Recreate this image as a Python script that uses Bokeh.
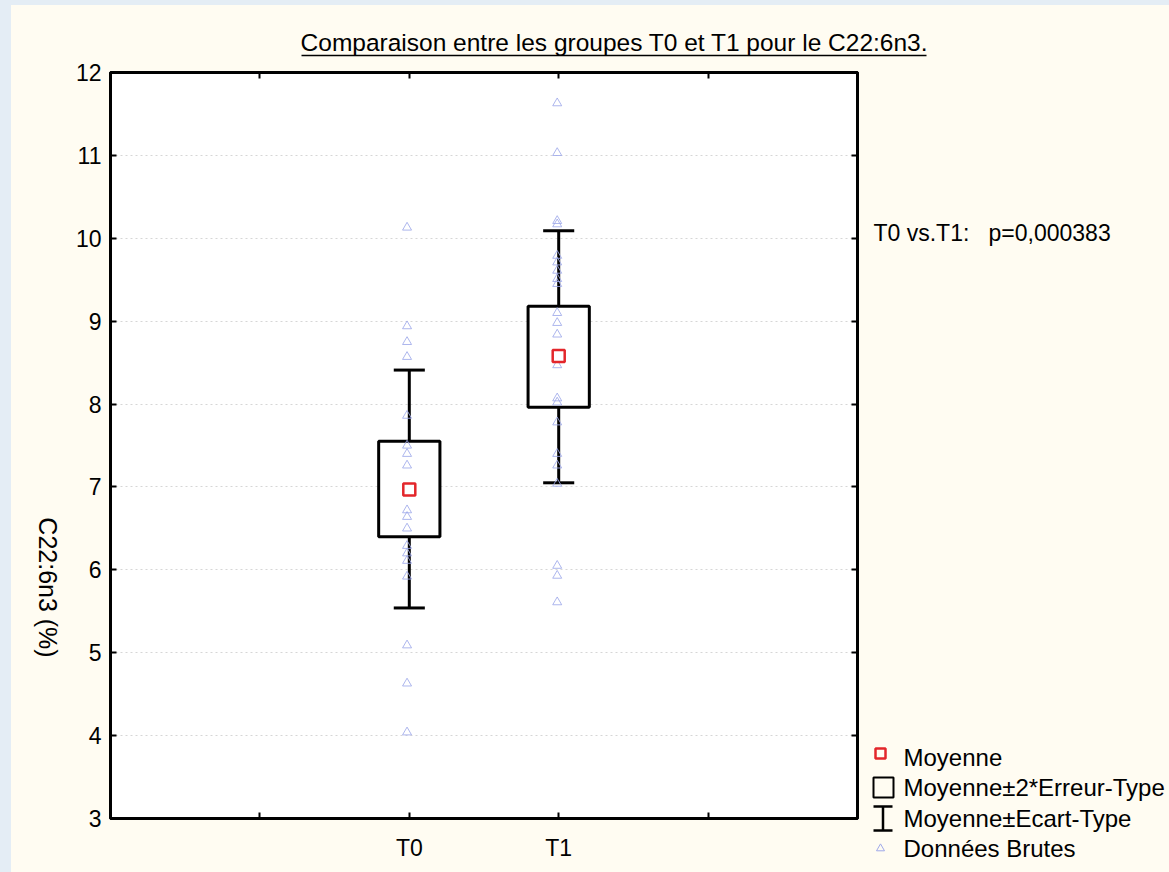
import math
from bokeh.plotting import figure
from bokeh.models import FixedTicker, LinearAxis, Range1d, ColumnDataSource
from bokeh.core.properties import value
from bokeh.layouts import column, row
from bokeh.embed import file_html
from bokeh.resources import INLINE

# ---------------- data ----------------
groups = ["T0", "T1"]
group_pos = [2, 3]
t0_values = [10.13, 8.94, 8.75, 8.57, 7.86, 7.50, 7.40, 7.26, 6.72, 6.64, 6.50,
             6.29, 6.20, 6.11, 5.92, 5.09, 4.63, 4.04]
t1_values = [11.63, 11.03, 10.21, 10.17, 9.79, 9.71, 9.61, 9.51, 9.45, 9.10, 8.98,
             8.84, 8.47, 8.07, 8.02, 7.78, 7.40, 7.26, 7.04, 6.05, 5.93, 5.61]
means = [6.97, 8.58]
se2_low = [6.40, 7.96]
se2_high = [7.55, 9.18]
sd_low = [5.54, 7.05]
sd_high = [8.41, 10.09]
y_ticks = list(range(3, 13))
x_ticks = [1, 2, 3, 4]
title_text = "Comparaison entre les groupes T0 et T1 pour le C22:6n3."
y_label_text = "C22:6n3 (%)"
p_text = "T0 vs.T1:\u00a0\u00a0\u00a0p=0,000383"
legend_labels = ["Moyenne", "Moyenne\u00b12*Erreur-Type", "Moyenne\u00b1Ecart-Type", "Donn\u00e9es Brutes"]

FONT = "Liberation Sans"
CREAM = "#fffcf2"
BLUE = "#e4edf5"
TRI = "#9fa9ea"
RED = "#e3262b"

# window layout (pixels)
OX, OY = 11, 5            # cream panel origin
TOP_H = 55                # title strip height (y 5..60)
LEFT_W = 60               # y-label strip width (x 11..71)
RIGHT_X = 870             # right strip start
FL, FR, FT, FB = 110, 857, 72, 818   # plot frame
W_TOTAL, H_TOTAL = 1169, 872


def deco_fig(w, h):
    f = figure(width=w, height=h, x_range=Range1d(0, w), y_range=Range1d(0, h),
               output_backend="svg", toolbar_location=None,
               x_axis_location=None, y_axis_location=None,
               min_border=0, min_border_left=0, min_border_right=0,
               min_border_top=0, min_border_bottom=0,
               background_fill_color=CREAM, border_fill_color=CREAM,
               outline_line_color=None, frame_align=False)
    f.grid.visible = False
    return f

# ---------------- title strip ----------------
top = deco_fig(W_TOTAL - OX, TOP_H)
top.text(x=[614 - OX], y=[TOP_H - (42 - OY)], text=[title_text], text_align="center",
         text_baseline="middle", text_font=value(FONT), text_font_size="24.5px",
         text_color="black")
top.segment(x0=[301 - OX], y0=[TOP_H - (55 - OY)], x1=[926 - OX], y1=[TOP_H - (55 - OY)],
            line_color="black", line_width=1.3)

# ---------------- y-label strip ----------------
body_h = H_TOTAL - OY - TOP_H
left = deco_fig(LEFT_W, body_h)
left.text(x=[47 - OX], y=[H_TOTAL - 587], text=[y_label_text], angle=-math.pi / 2,
          text_align="center", text_baseline="middle", text_font=value(FONT),
          text_font_size="25px", text_color="black")

# ---------------- main plot ----------------
main_w = RIGHT_X - (OX + LEFT_W)
p = figure(width=main_w, height=body_h, x_range=Range1d(0, 5), y_range=Range1d(3, 12),
           output_backend="svg", toolbar_location=None,
           min_border_left=FL - (OX + LEFT_W), min_border_right=RIGHT_X - FR,
           min_border_top=FT - (OY + TOP_H), min_border_bottom=H_TOTAL - FB,
           background_fill_color="white", border_fill_color=CREAM,
           outline_line_color="black", outline_line_width=3, frame_align=False)


def style_axis(ax, show_labels):
    ax.axis_line_width = 3
    ax.axis_line_color = "black"
    ax.major_tick_in = 6
    ax.major_tick_out = 0
    ax.major_tick_line_width = 2
    ax.minor_tick_line_color = None
    ax.major_label_text_font = FONT
    ax.major_label_text_color = "black" if show_labels else None
    ax.major_label_text_font_size = "23px" if show_labels else "1px"
    if not show_labels:
        ax.major_label_standoff = 0


p.xaxis.ticker = FixedTicker(ticks=x_ticks)
p.xaxis.major_label_overrides = {1: "", 2: groups[0], 3: groups[1], 4: ""}
p.xaxis.major_label_standoff = 16
p.yaxis.ticker = FixedTicker(ticks=y_ticks)
p.yaxis.major_label_standoff = 9
style_axis(p.xaxis[0], True)
style_axis(p.yaxis[0], True)

top_ax = LinearAxis(ticker=FixedTicker(ticks=x_ticks))
right_ax = LinearAxis(ticker=FixedTicker(ticks=y_ticks))
style_axis(top_ax, False)
style_axis(right_ax, False)
p.add_layout(top_ax, "above")
p.add_layout(right_ax, "right")

p.xgrid.grid_line_color = None
p.ygrid.ticker = FixedTicker(ticks=y_ticks)
p.ygrid.grid_line_color = "#d6d6d6"
p.ygrid.grid_line_dash = "2 3"

stats = ColumnDataSource(dict(x=group_pos, mean=means, lo=se2_low, hi=se2_high,
                              sdl=sd_low, sdh=sd_high,
                              cl=[g - 0.104 for g in group_pos], cr=[g + 0.104 for g in group_pos],
                              bl=[g - 0.205 for g in group_pos], br=[g + 0.205 for g in group_pos]))
p.segment(x0="x", y0="sdl", x1="x", y1="sdh", source=stats, line_color="black", line_width=3)
p.segment(x0="cl", y0="sdh", x1="cr", y1="sdh", source=stats, line_color="black", line_width=3)
p.segment(x0="cl", y0="sdl", x1="cr", y1="sdl", source=stats, line_color="black", line_width=3)
p.quad(left="bl", right="br", bottom="lo", top="hi", source=stats,
       fill_color="white", line_color="black", line_width=3)

raw = ColumnDataSource(dict(x=[group_pos[0] - 0.015] * len(t0_values) + [group_pos[1] - 0.01] * len(t1_values),
                            y=t0_values + t1_values))
p.scatter(x="x", y="y", source=raw, marker="triangle", size=9, fill_color=None,
          line_color=TRI, line_width=1, line_alpha=0.85)
p.scatter(x="x", y="mean", source=stats, marker="square", size=12, fill_color="white",
          line_color=RED, line_width=2.5)

# ---------------- right strip: p-value + legend ----------------
right_w = W_TOTAL - RIGHT_X
rt = deco_fig(right_w, body_h)


def rx(wx):
    return wx - RIGHT_X


def ry(wy):
    return H_TOTAL - wy


rt.text(x=[rx(873)], y=[ry(232)], text=[p_text], text_align="left", text_baseline="middle",
        text_font=value(FONT), text_font_size="23px", text_color="black")

rows_y = [757, 787, 818, 848]
rt.text(x=[rx(903)] * 4, y=[ry(v) for v in rows_y], text=legend_labels, text_align="left",
        text_baseline="middle", text_font=value(FONT), text_font_size="24px",
        text_color="black")
# legend symbols
rt.scatter(x=[rx(880)], y=[ry(753)], marker="square", size=10, fill_color=None,
           line_color=RED, line_width=2.5)
rt.scatter(x=[rx(883)], y=[ry(787)], marker="square", size=20, fill_color=None,
           line_color="black", line_width=2)
rt.segment(x0=[rx(882.5), rx(873), rx(873)], y0=[ry(806), ry(806), ry(830)],
           x1=[rx(882.5), rx(892), rx(892)], y1=[ry(830), ry(806), ry(830)],
           line_color="black", line_width=2.5)
rt.scatter(x=[rx(880)], y=[ry(848)], marker="triangle", size=8, fill_color=None,
           line_color=TRI, line_width=1)

inner = column(top, row(left, p, rt), styles={"background-color": CREAM},
               margin=(OY, 0, 0, OX))
layout = column(inner, styles={"background-color": BLUE})
open("out.html", "w").write(file_html(layout, INLINE))
